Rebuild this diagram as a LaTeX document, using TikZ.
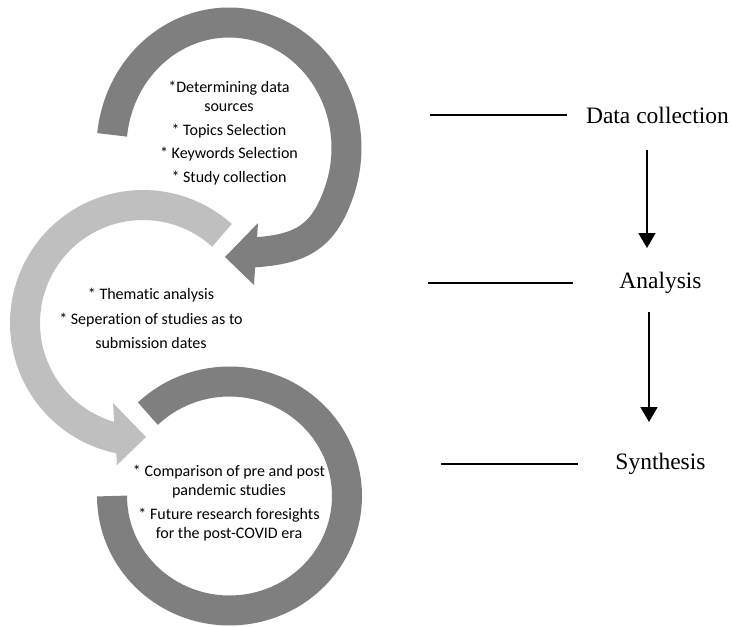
\documentclass[tikz,border=0pt]{standalone}
\usepackage{fontspec}
\setmainfont{Liberation Serif}
\newfontfamily\calfont[Ligatures=NoCommon]{Carlito}
\usetikzlibrary{arrows.meta}
\definecolor{dgray}{RGB}{127,127,127}
\definecolor{lgray}{RGB}{191,191,191}
\begin{document}
\begin{tikzpicture}[x=1bp,y=-1bp,
  darkband/.style={draw=dgray,line width=30bp},
  lightband/.style={draw=lgray,line width=30bp},
  ctext/.style={font=\calfont\fontsize{16bp}{19.5bp}\selectfont,align=center,inner sep=0pt},
  lbl/.style={font=\fontsize{23.5bp}{28bp}\selectfont,inner sep=0pt},
  hline/.style={line width=1.8bp},
  flow/.style={line width=1.8bp,-{Triangle[width=17bp,length=15bp]}}
]
\useasboundingbox (0,0) rectangle (732,627);

% circle 1 (dark)
\draw[darkband] plot[domain=186:380,samples=90,variable=\t]
  ({229+117.5*cos(\t)},{148+125.5*sin(\t)})
  .. controls (323.4,238.4) and (300,250) .. (250,252.6);
\fill[dgray] (258,223) -- (225,257) -- (254,285) -- cycle;

% circle 2 (light)
\draw[lightband] plot[domain=-48:-256,samples=90,variable=\t]
  ({143+118*cos(\t)},{323+118*sin(\t)}) -- (120,438.8);
\fill[lgray] (113,403) -- (146,437) -- (117,465) -- cycle;

% circle 3 (dark)
\draw[darkband] plot[domain=226:540,samples=100,variable=\t]
  ({229.5+117.5*cos(\t)},{496+114.5*sin(\t)});

% texts
\node[ctext] (t1) at (229,133) {*Determining data\\sources\\[4bp]* Topics Selection\\[4bp]* Keywords Selection\\[4bp]* Study collection};
\node[ctext,font=\calfont\fontsize{16bp}{24.5bp}\selectfont] (t2) at (151,318.5) {* Thematic analysis\\* Seperation of studies as to\\submission dates};
\node[ctext,font=\calfont\fontsize{16bp}{18.5bp}\selectfont] (t3) at (229,503) {* Comparison of pre and post\\pandemic studies\\[6bp]* Future research foresights\\for the post-COVID era};

% right side
\node[lbl] (dc) at (657.5,115) {Data collection};
\node[lbl] (an) at (660.5,283) {Analysis};
\node[lbl] (sy) at (660.5,464) {Synthesis};

\coordinate (l1a) at (430,115);
\coordinate (l1b) at (567,115);
\coordinate (l2a) at (428,283);
\coordinate (l2b) at (573,283);
\coordinate (l3a) at (441,464);
\coordinate (l3b) at (578,464);
\draw[hline] (l1a) -- (l1b);
\draw[hline] (l2a) -- (l2b);
\draw[hline] (l3a) -- (l3b);

\coordinate (a1s) at (647,150);
\coordinate (a1e) at (647,248);
\coordinate (a2s) at (649,312);
\coordinate (a2e) at (649,422);
\draw[flow] (a1s) -- (a1e);
\draw[flow] (a2s) -- (a2e);
\end{tikzpicture}
\end{document}
